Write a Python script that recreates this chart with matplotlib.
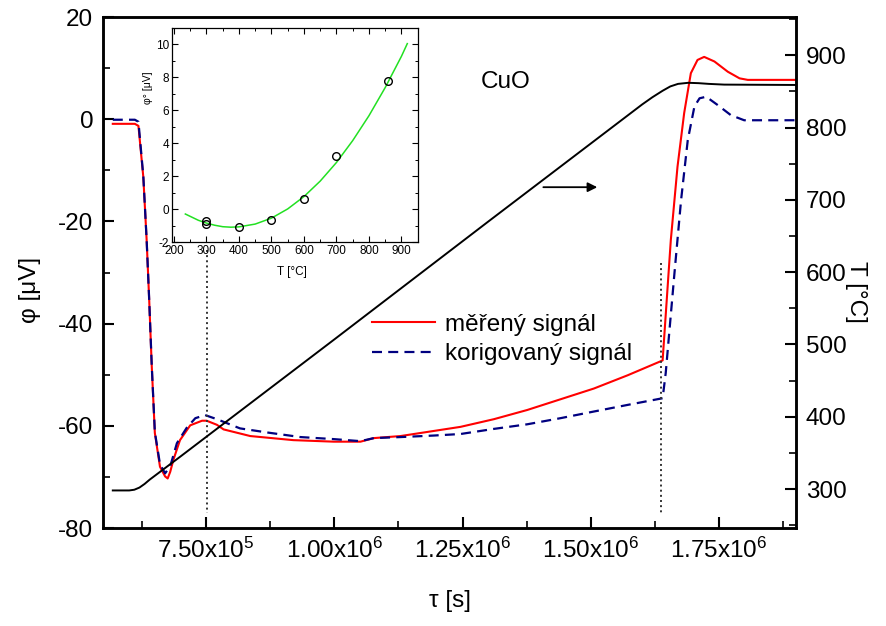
import matplotlib.pyplot as plt
from matplotlib.ticker import MultipleLocator, FuncFormatter

plt.rcParams['font.family'] = ['Liberation Sans', 'DejaVu Sans']
plt.rcParams['mathtext.fontset'] = 'custom'
plt.rcParams['mathtext.rm'] = 'Liberation Sans'
plt.rcParams['mathtext.default'] = 'regular'
plt.rcParams['axes.unicode_minus'] = False

# měřený signál (red)
tau_mer = [5.68e5, 6.11e5, 6.18e5, 6.275e5, 6.34e5, 6.39e5, 6.44e5, 6.50e5, 6.60e5,
           6.70e5, 6.75e5, 6.80e5, 6.86e5, 6.99e5, 7.19e5, 7.42e5, 7.51e5, 7.71e5,
           7.84e5, 8.36e5, 9.20e5, 9.99e5, 1.051e6, 1.077e6, 1.129e6, 1.194e6,
           1.246e6, 1.311e6, 1.376e6, 1.441e6, 1.506e6, 1.572e6, 1.640e6, 1.656e6,
           1.669e6, 1.682e6, 1.695e6, 1.708e6, 1.721e6, 1.741e6, 1.767e6, 1.790e6,
           1.806e6, 1.90e6]
phi_mer = [-0.9, -0.9, -1.3, -11.3, -23.6, -35.4, -48.4, -61.4, -68.0,
           -69.9, -70.3, -69.0, -66.7, -62.8, -59.9, -59.0, -59.0, -59.8,
           -60.7, -62.0, -62.8, -63.1, -63.1, -62.4, -62.0, -61.0,
           -60.2, -58.7, -56.9, -54.8, -52.7, -50.1, -47.2, -23.6,
           -9.3, 1.2, 9.0, 11.6, 12.2, 11.3, 9.3, 8.0,
           7.7, 7.7]

# korigovaný signál (blue dashed)
tau_kor = [5.68e5, 6.11e5, 6.18e5, 6.275e5, 6.34e5, 6.39e5, 6.44e5, 6.50e5, 6.60e5,
           6.70e5, 6.80e5, 6.93e5, 7.12e5, 7.29e5, 7.48e5, 7.71e5, 8.16e5, 8.69e5,
           9.34e5, 9.99e5, 1.051e6, 1.077e6, 1.129e6, 1.194e6, 1.246e6, 1.311e6,
           1.376e6, 1.441e6, 1.506e6, 1.572e6, 1.640e6, 1.646e6, 1.663e6, 1.676e6,
           1.689e6, 1.702e6, 1.712e6, 1.725e6, 1.747e6, 1.773e6, 1.799e6, 1.90e6]
phi_kor = [-0.1, -0.1, -0.5, -11.1, -23.6, -35.4, -48.3, -61.2, -67.5,
           -69.3, -67.9, -63.4, -60.4, -58.5, -57.9, -58.7, -60.5, -61.3,
           -62.2, -62.6, -63.0, -62.4, -62.2, -61.9, -61.6, -60.6,
           -59.7, -58.5, -57.2, -55.9, -54.6, -49.7, -30.2, -15.8,
           -4.1, 2.5, 4.1, 4.4, 2.8, 0.8, -0.2, -0.2]

# teplota (black, right axis)
tau_T = [5.68e5, 6.00e5, 6.10e5, 6.20e5, 6.30e5, 6.40e5, 7.00e5, 1.00e6, 1.30e6,
         1.60e6, 1.62e6, 1.64e6, 1.655e6, 1.67e6, 1.69e6, 1.71e6, 1.73e6, 1.76e6, 1.90e6]
temp = [298, 298, 299, 302, 307, 313, 345, 507, 670,
        832, 842, 851, 857, 860.5, 862, 861.5, 860.5, 859.5, 859]

# inset: phi° vs T
T_pts = [300, 300, 400, 500, 600, 700, 860]
phi0_pts = [-0.73, -0.88, -1.08, -0.69, 0.61, 3.2, 7.76]
T_fit = [235, 275, 300, 325, 350, 375, 400, 450, 500, 550, 600, 650, 700, 750,
         800, 850, 900, 918]
phi0_fit = [-0.3, -0.68, -0.85, -0.98, -1.07, -1.1, -1.08, -0.91, -0.55, 0.01,
            0.76, 1.70, 2.83, 4.16, 5.67, 7.38, 9.28, 10.05]

fig = plt.figure(figsize=(8.86, 6.26), dpi=100)
ax = fig.add_axes([0.1163, 0.1565, 0.7821, 0.8163])
ax.plot(tau_mer, phi_mer, color='#ff0000', lw=1.5, label='měřený signál')
ax.plot(tau_kor, phi_kor, color='#000080', lw=1.6, dashes=(4.5, 2.8),
        label='korigovaný signál')
ax.plot([7.51e5, 7.51e5], [-25.5, -77], ls=':', color='#333333', lw=1.4)
ax.plot([1.637e6, 1.637e6], [-28.1, -77], ls=':', color='#333333', lw=1.4)
ax.set_xlim(5.49e5, 1.90e6)
ax.set_ylim(-80, 20)
ax.xaxis.set_major_locator(MultipleLocator(2.5e5))
ax.xaxis.set_minor_locator(MultipleLocator(1.25e5))
ax.yaxis.set_major_locator(MultipleLocator(20))
ax.yaxis.set_minor_locator(MultipleLocator(10))


def sci(v, pos):
    if v <= 0:
        return ''
    e = 5 if v < 1e6 else 6
    return '%.2fx10$^{%d}$' % (v / 10 ** e, e)


ax.xaxis.set_major_formatter(FuncFormatter(sci))
ax.tick_params(which='both', direction='in', labelsize=17.5, pad=7)
ax.tick_params(which='major', length=8, width=1.5)
ax.tick_params(which='minor', length=5, width=1.2)
for s in ax.spines.values():
    s.set_linewidth(1.8)
ax.text(-0.105, 0.466, 'φ [μV]', transform=ax.transAxes, rotation=90,
        ha='center', va='center', fontsize=17.5)
ax.text(0.5, -0.143, 'τ [s]', transform=ax.transAxes, ha='center', va='center',
        fontsize=17.5)
ax.text(1.334e6, 7.3, 'CuO', ha='center', va='center', fontsize=17.5)
ax.annotate('', xy=(1.518e6, -13.3), xytext=(1.402e6, -13.3),
            arrowprops=dict(arrowstyle='-|>', color='black', lw=1.3,
                            mutation_scale=14))

ax2 = ax.twinx()
ax2.plot(tau_T, temp, color='black', lw=1.4)
ax2.set_ylim(246, 953)
ax2.yaxis.set_major_locator(MultipleLocator(100))
ax2.yaxis.set_minor_locator(MultipleLocator(50))
ax2.tick_params(which='both', direction='in', labelsize=17.5, pad=7)
ax2.tick_params(which='major', length=8, width=1.5)
ax2.tick_params(which='minor', length=5, width=1.2)
for s in ax2.spines.values():
    s.set_linewidth(1.8)
ax2.text(1.087, 0.462, 'T [°C]', transform=ax.transAxes, rotation=270,
         ha='center', va='center', fontsize=17.5)

h, l = ax.get_legend_handles_labels()
ax2.legend(h, l, loc='upper left', bbox_to_anchor=(0.356, 0.462), frameon=False,
           fontsize=17.5, handlelength=2.6, handletextpad=0.4, labelspacing=0.3)

ins = fig.add_axes([0.1938, 0.6134, 0.278, 0.3419])
ins.plot(T_fit, phi0_fit, color='#22e022', lw=1.1)
ins.plot(T_pts, phi0_pts, 'o', mfc='none', mec='black', ms=5.5, mew=1.0)
ins.set_xlim(193, 951)
ins.set_ylim(-2, 11)
ins.xaxis.set_major_locator(MultipleLocator(100))
ins.xaxis.set_minor_locator(MultipleLocator(50))
ins.yaxis.set_major_locator(MultipleLocator(2))
ins.yaxis.set_minor_locator(MultipleLocator(1))
ins.tick_params(which='both', direction='in', top=True, right=True,
                labelsize=8.5, pad=2)
ins.tick_params(which='major', length=4, width=0.8)
ins.tick_params(which='minor', length=2.5, width=0.7)
for s in ins.spines.values():
    s.set_linewidth(0.9)
ins.text(0.49, -0.139, 'T [°C]', transform=ins.transAxes, ha='center',
         va='center', fontsize=8.5)
ins.text(-0.098, 0.72, 'φ° [μV]', transform=ins.transAxes, rotation=90,
         ha='center', va='center', fontsize=7.5)

fig.savefig('out.png', dpi=100)
